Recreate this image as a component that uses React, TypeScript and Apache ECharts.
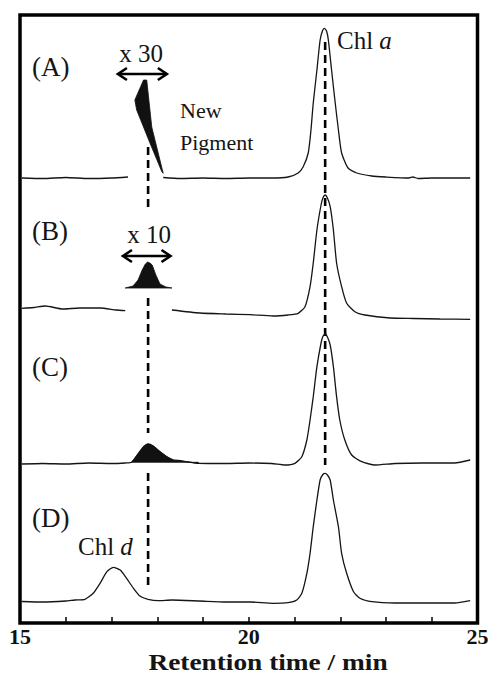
import React, { useEffect, useRef } from 'react';
import * as echarts from 'echarts';

// Retention time (min) vs detector signal (arbitrary units, traces offset vertically)
const xTickLabels = ['15', '20', '25'];

// (A)
const traceALeft: number[][] = [[15.04, 445], [15.5, 444.5], [16.0, 445.5], [16.5, 444.5], [17.0, 445], [17.36, 446]];
const traceARight: number[][] = [[18.13, 445.5], [18.5, 444.5], [19.0, 445], [19.5, 444.5], [20.0, 445], [20.5, 445], [20.86, 446], [21.08, 450], [21.19, 456.3], [21.3, 470], [21.36, 493], [21.41, 520], [21.49, 553], [21.56, 583], [21.61, 592], [21.65, 594.7], [21.7, 592], [21.74, 583], [21.81, 553], [21.89, 520], [21.96, 493], [22.03, 470], [22.17, 455], [22.36, 450], [22.69, 447], [23.0, 446], [23.5, 445], [23.59, 446], [23.7, 444.5], [24.0, 445], [24.5, 445], [24.84, 445]];
const pigmentA_x30: number[][] = [[17.7, 543], [17.77, 543], [17.88, 496], [18.13, 449.7], [18.1, 451.3], [17.84, 480], [17.55, 513], [17.51, 523]];

// (B)
const traceBLeft: number[][] = [[15.04, 314.7], [15.3, 315.5], [15.55, 317], [15.94, 314], [16.3, 315], [16.75, 315], [17.1, 313], [17.3, 312.3]];
const traceBRight: number[][] = [[18.32, 313], [18.93, 310], [19.5, 309], [20.03, 308.3], [20.53, 307], [20.86, 308], [21.08, 309.7], [21.23, 316.3], [21.34, 336.3], [21.41, 360], [21.49, 393], [21.58, 418], [21.62, 425], [21.67, 428], [21.72, 425], [21.78, 416.3], [21.85, 393], [21.92, 360], [22.03, 336.3], [22.14, 319.7], [22.32, 311.3], [22.54, 308], [23.09, 305], [23.6, 304.5], [24.18, 304], [24.84, 303.7]];
const pigmentB_x10: number[][] = [[17.3, 335], [17.47, 337], [17.58, 343], [17.67, 353], [17.74, 359], [17.79, 361], [17.84, 360], [17.89, 358], [17.97, 348], [18.06, 339], [18.19, 336], [18.32, 335]];

// (C)
const traceCLeft: number[][] = [[15.04, 159], [15.5, 159.5], [16.0, 159], [16.5, 160], [17.0, 159.5], [17.3, 160]];
const pigmentC: number[][] = [[17.44, 160.7], [17.59, 169.7], [17.7, 176.3], [17.8, 179], [17.91, 177], [18.06, 171.3], [18.21, 166.3], [18.35, 163], [18.5, 162.3], [18.64, 161.3], [18.9, 159.7]];
const traceCRight: number[][] = [[19.5, 159.5], [20.0, 160], [20.5, 159.5], [20.79, 158], [21.01, 159.7], [21.16, 166.3], [21.27, 183], [21.34, 203], [21.41, 226.3], [21.49, 256.3], [21.58, 280], [21.62, 286.5], [21.67, 289], [21.72, 286], [21.78, 278], [21.85, 256.3], [21.92, 226.3], [21.99, 203], [22.1, 183], [22.25, 168], [22.47, 161.3], [22.76, 158], [23.2, 159.5], [23.8, 160], [24.5, 160], [24.84, 163]];

// (D)
const traceD: number[][] = [[15.04, 21.5], [15.5, 21], [16.0, 22], [16.2, 23], [16.42, 23.7], [16.6, 29.7], [16.75, 39.7], [16.9, 51.3], [17.04, 55.7], [17.19, 53], [17.33, 44.7], [17.48, 34.7], [17.62, 27], [17.8, 23.7], [18.02, 22.3], [18.32, 23], [18.93, 22], [19.5, 21], [20.03, 21], [20.53, 19.7], [20.86, 20.3], [21.05, 23], [21.16, 29.7], [21.27, 49.7], [21.34, 69.7], [21.41, 96.3], [21.49, 123], [21.56, 143], [21.62, 148.5], [21.67, 149.7], [21.72, 148], [21.78, 143], [21.85, 123], [21.96, 96.3], [22.03, 69.7], [22.14, 49.7], [22.29, 31.3], [22.43, 24.7], [22.69, 21.3], [23.2, 20], [23.8, 20], [24.5, 20], [24.84, 22.3]];

// Reference lines: [time, yFrom, yTo]
const chlADash: number[][] = [[21.67, 581, 158]];
const pigmentDash: number[][] = [[17.8, 476, 411], [17.8, 325, 190], [17.8, 150, 35]];
// Double arrows: [timeFrom, timeTo, y]
const arrows: number[][] = [[17.14, 18.21, 549], [17.25, 18.29, 367]];

const SERIF = '"Liberation Serif", "Times New Roman", serif';
const INK = '#151515';

export default function App() {
  const ref = useRef<HTMLDivElement>(null);
  useEffect(() => {
    const chart = echarts.init(ref.current!, null, { renderer: 'svg' });

    const traceLine = (data: number[][]) => ({
      type: 'line', data, symbol: 'none', showSymbol: false, smooth: 0.2,
      lineStyle: { color: INK, width: 1.3 }, silent: true, z: 3,
    });
    const filled = (pts: number[][]) => ({
      type: 'custom', coordinateSystem: 'cartesian2d', clip: false, silent: true, z: 4,
      data: [pts[0]],
      renderItem: (_p: any, api: any) => ({
        type: 'polygon',
        shape: { points: pts.map((p) => api.coord(p)) },
        style: { fill: '#111', stroke: '#111', lineWidth: 0.8 },
      }),
    });
    const dashes = (segs: number[][]) => segs.map((s) => ({
      type: 'line', data: [[s[0], s[1]], [s[0], s[2]]], symbol: 'none', showSymbol: false,
      lineStyle: { color: '#000', width: 2.6, type: [8, 5] }, silent: true, z: 2,
    }));

    const option: any = {
      animation: false,
      backgroundColor: '#fff',
      grid: { left: 20, right: 18.5, top: 15, bottom: 53, show: true, borderColor: '#000', borderWidth: 3.5, backgroundColor: 'transparent' },
      xAxis: {
        type: 'value', min: 15, max: 25, interval: 5,
        axisLine: { show: false },
        splitLine: { show: false },
        axisTick: { show: true, inside: true, length: 6, lineStyle: { color: '#000', width: 1.5 } },
        minorTick: { show: true, splitNumber: 5, length: 6, lineStyle: { color: '#000', width: 1.5 } },
        axisLabel: {
          show: true, margin: 2, color: '#111', fontFamily: SERIF, fontWeight: 'bold', fontSize: 22, lineHeight: 22,
          showMinLabel: true, showMaxLabel: true,
          formatter: (v: number) => xTickLabels.find((t) => Number(t) === v) ?? '',
        },
      },
      yAxis: { type: 'value', min: 0, max: 608, show: false },
      series: [
        traceLine(traceALeft), traceLine(traceARight),
        traceLine(traceBLeft), traceLine(traceBRight),
        traceLine([...traceCLeft, ...pigmentC, ...traceCRight]),
        traceLine(traceD),
        filled(pigmentA_x30), filled(pigmentB_x10),
        filled([...pigmentC, [pigmentC[pigmentC.length - 1][0], pigmentC[0][1]]]),
        ...dashes(chlADash), ...dashes(pigmentDash),
        {
          type: 'custom', coordinateSystem: 'cartesian2d', clip: false, silent: true, z: 5,
          data: arrows, encode: { x: [0, 1], y: 2 },
          renderItem: (_p: any, api: any) => {
            const a = api.coord([api.value(0), api.value(2)]);
            const b = api.coord([api.value(1), api.value(2)]);
            const h = 6, l = 9;
            const st = { stroke: '#000', lineWidth: 2.6, fill: 'none' };
            return {
              type: 'group', children: [
                { type: 'line', shape: { x1: a[0] + 1, y1: a[1], x2: b[0] - 1, y2: b[1] }, style: st },
                { type: 'polyline', shape: { points: [[a[0] + l, a[1] - h], [a[0], a[1]], [a[0] + l, a[1] + h]] }, style: st },
                { type: 'polyline', shape: { points: [[b[0] - l, b[1] - h], [b[0], b[1]], [b[0] - l, b[1] + h]] }, style: st },
              ],
            };
          },
        },
      ],
      graphic: [
        ...[['(A)', 67], ['(B)', 231], ['(C)', 367], ['(D)', 518]].map(([t, y]) => ({
          type: 'text', x: 32, y: y as number, silent: true,
          style: { text: t as string, font: `27px ${SERIF}`, fill: INK, align: 'left', verticalAlign: 'middle' },
        })),
        { type: 'text', x: 141, y: 53, silent: true, style: { text: 'x 30', font: `25px ${SERIF}`, fill: INK, align: 'center', verticalAlign: 'middle' } },
        { type: 'text', x: 149, y: 234, silent: true, style: { text: 'x 10', font: `25px ${SERIF}`, fill: INK, align: 'center', verticalAlign: 'middle' } },
        { type: 'text', x: 180, y: 110, silent: true, style: { text: 'New', font: `22px ${SERIF}`, fill: INK, align: 'left', verticalAlign: 'middle' } },
        { type: 'text', x: 180, y: 142, silent: true, style: { text: 'Pigment', font: `22px ${SERIF}`, fill: INK, align: 'left', verticalAlign: 'middle' } },
        {
          type: 'text', x: 337, y: 40, silent: true,
          style: {
            text: '{r|Chl }{i|a}', align: 'left', verticalAlign: 'middle',
            rich: { r: { font: `25px ${SERIF}`, fill: INK }, i: { font: `italic 25px ${SERIF}`, fill: INK } },
          },
        },
        {
          type: 'text', x: 78, y: 546, silent: true,
          style: {
            text: '{r|Chl }{i|d}', align: 'left', verticalAlign: 'middle',
            rich: { r: { font: `25px ${SERIF}`, fill: INK }, i: { font: `italic 25px ${SERIF}`, fill: INK } },
          },
        },
        { type: 'text', x: 268, y: 662, scaleX: 1.14, silent: true, style: { text: 'Retention time / min', font: `bold 24px ${SERIF}`, fill: INK, align: 'center', verticalAlign: 'middle' } },
      ],
    };
    chart.setOption(option);
    return () => chart.dispose();
  }, []);
  return <div ref={ref} style={{ position: 'fixed', left: 0, top: 0, width: 496, height: 676, background: '#fff' }} />;
}
